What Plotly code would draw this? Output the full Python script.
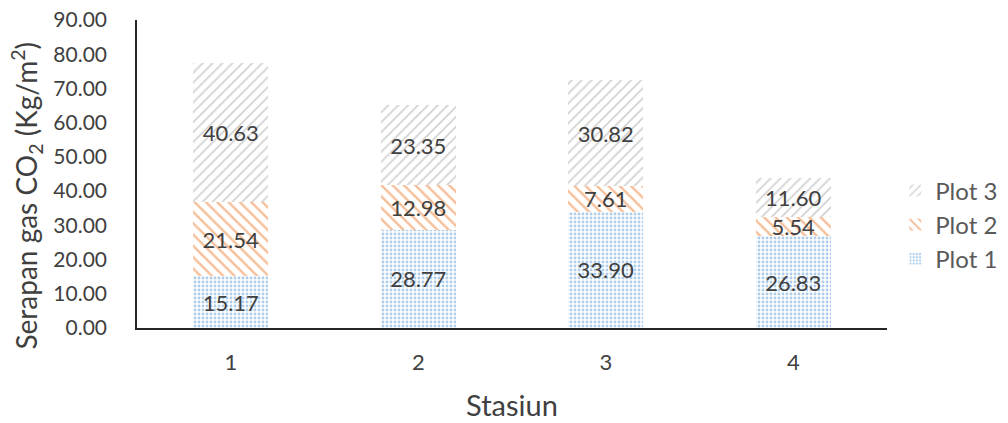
import plotly.graph_objects as go

stasiun = ["1", "2", "3", "4"]
plot1 = [15.17, 28.77, 33.90, 26.83]
plot2 = [21.54, 12.98, 7.61, 5.54]
plot3 = [40.63, 23.35, 30.82, 11.60]
y_ticks = [0, 10, 20, 30, 40, 50, 60, 70, 80, 90]

FONT = "Lato"
TXT = "#404040"

fig = go.Figure()
series = [
    ("Plot 1", plot1, "#5b9bd5", ".", 4, 0.4),
    ("Plot 2", plot2, "#ed7d31", "\\", 8, 0.3),
    ("Plot 3", plot3, "#a5a5a5", "/", 7, 0.25),
]
for name, vals, col, shape, size, sol in series:
    fig.add_trace(go.Bar(
        x=stasiun, y=vals, name=name,
        marker=dict(color="white", line=dict(width=0),
                    pattern=dict(shape=shape, fgcolor=col, bgcolor="white",
                                 size=size, solidity=sol, fillmode="overlay")),
        text=[f"{v:.2f}" for v in vals], textposition="inside",
        insidetextanchor="middle",
        textfont=dict(family=FONT, size=22, color=TXT),
        legendgroup=name,
    ))

fig.update_layout(
    barmode="stack", bargap=0.6,
    width=1000, height=415,
    margin=dict(l=129, r=121, t=12, b=95, autoexpand=False),
    plot_bgcolor="white", paper_bgcolor="white",
    font=dict(family=FONT, color=TXT),
    uniformtext=dict(minsize=22, mode="show"),
    legend=dict(x=1.011, y=0.335, xanchor="left", yanchor="middle",
                traceorder="reversed", tracegroupgap=20, itemwidth=30,
                font=dict(family=FONT, size=24, color="#595959")),
    xaxis=dict(showline=True, linecolor="#262626", linewidth=1.5,
               ticks="", tickfont=dict(size=22, color=TXT),
               ticklabelstandoff=14, automargin=False,
               title=dict(text="Stasiun", font=dict(size=29, color=TXT), standoff=22)),
    yaxis=dict(range=[0, 90], tickvals=y_ticks,
               ticktext=[f"{v:.2f}" for v in y_ticks],
               showline=True, linecolor="#262626", linewidth=1.5,
               showgrid=False, zeroline=False, ticks="",
               tickfont=dict(size=21, color=TXT), ticklabelstandoff=24,
               ticklabeloverflow="allow", automargin=False),
    annotations=[dict(text="Serapan gas CO<sub>2</sub> (Kg/m<sup>2</sup>)",
                      textangle=-90, xref="paper", yref="paper",
                      x=-0.1467, y=0.43, xanchor="center", yanchor="middle",
                      showarrow=False, font=dict(family=FONT, size=28, color=TXT))],
)

fig.write_html("out.html")
